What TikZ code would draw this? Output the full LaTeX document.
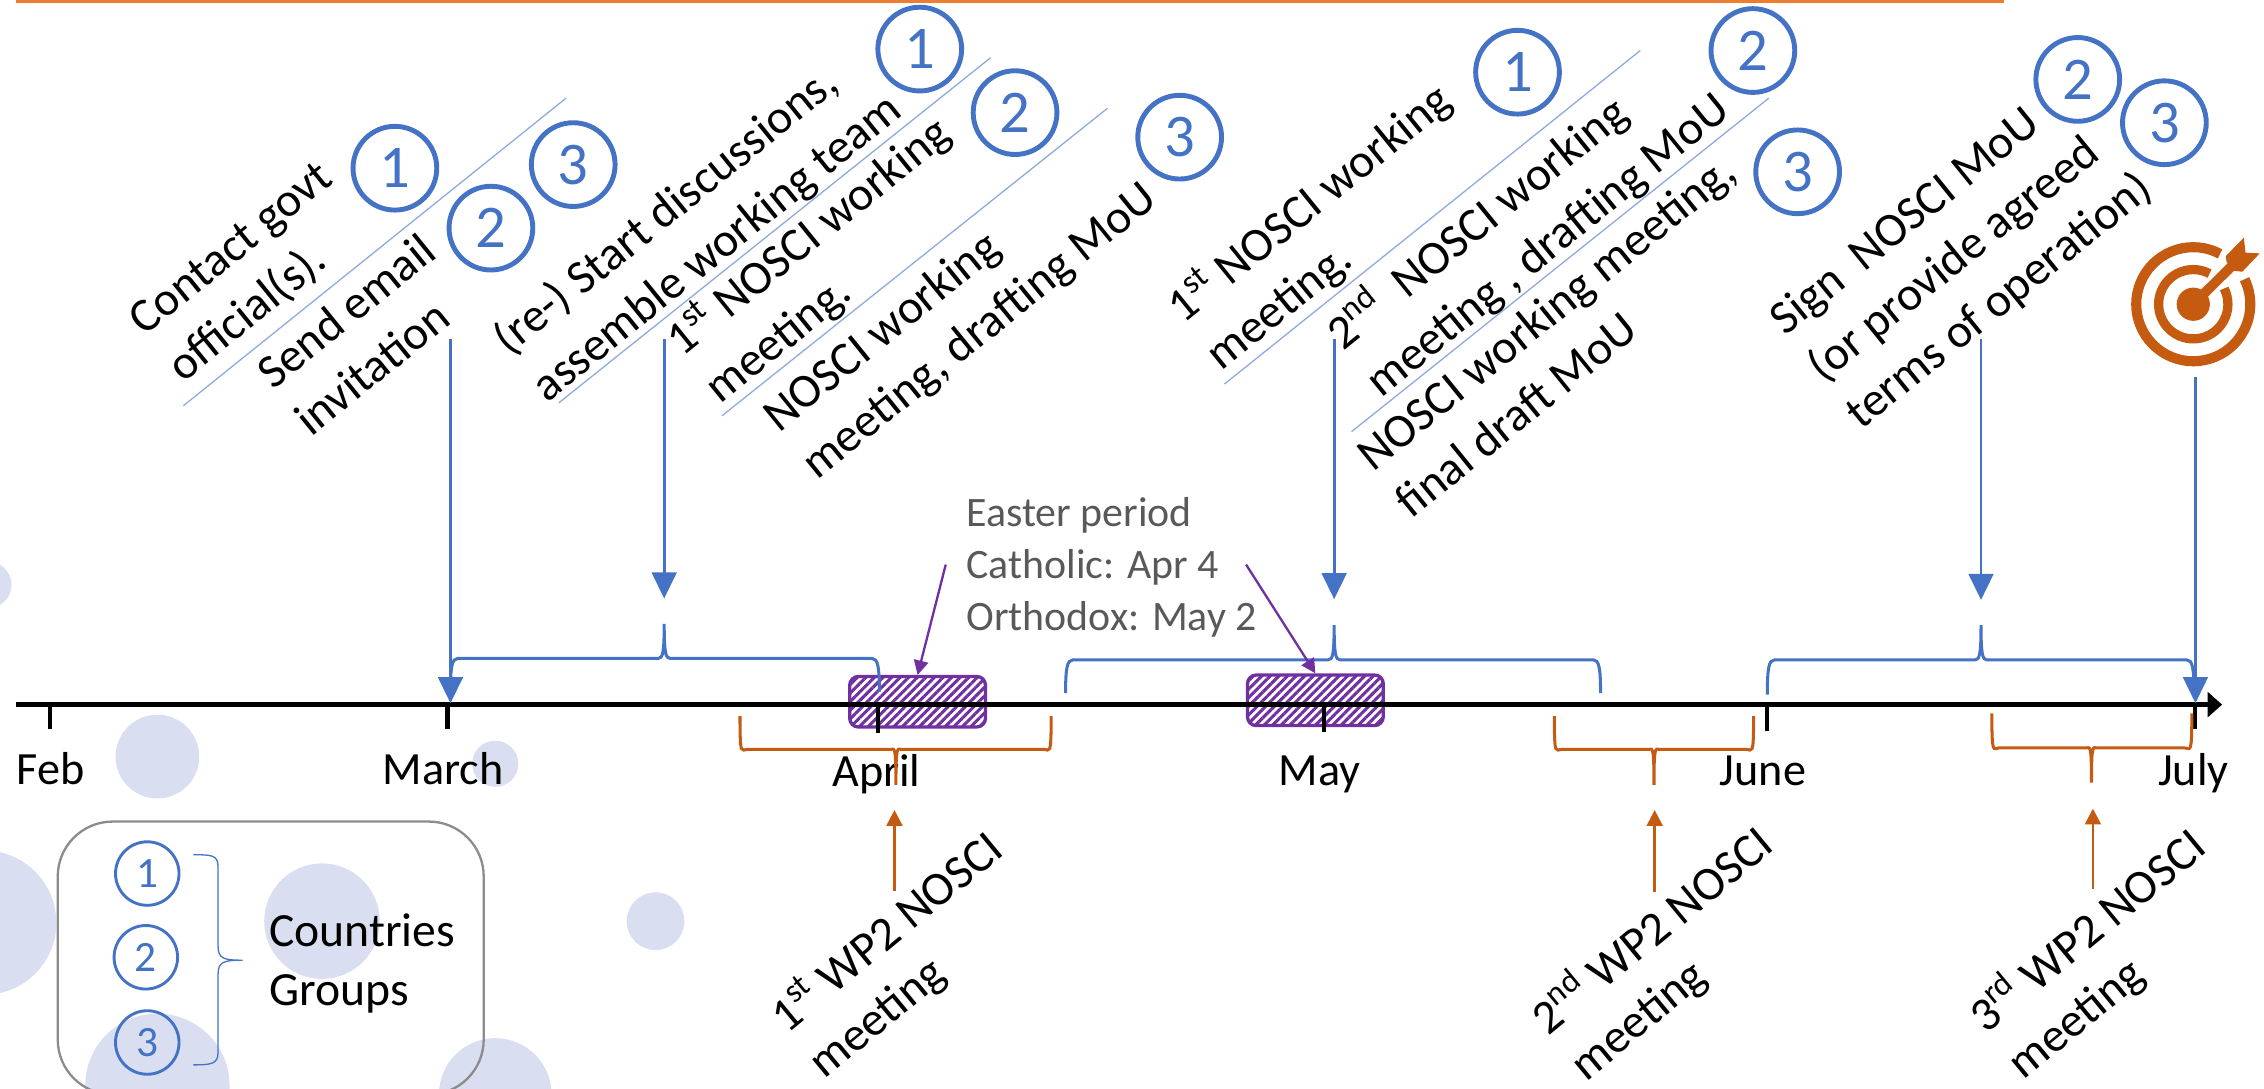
\documentclass[tikz,border=0pt]{standalone}
\usepackage{fontspec}
\setmainfont{Carlito}
\usetikzlibrary{arrows.meta,patterns.meta}
\definecolor{cblue}{HTML}{4472C4}
\definecolor{cbluelt}{HTML}{8FAADC}
\definecolor{corange}{HTML}{C55A11}
\definecolor{ctop}{HTML}{ED7D31}
\definecolor{cpurple}{HTML}{7030A0}
\definecolor{cbubble}{HTML}{D9DFF0}
\definecolor{cgrey}{HTML}{595959}
\newcommand{\hbr}[8]{% style, xl, yl, ybar, xm, ytip, xr, yr
  \draw[#1] (#2,#3) .. controls (#2,#4+6) and (#2+1,#4) .. (#2+5,#4)
    -- (#5-4,#4) .. controls (#5-1,#4) and (#5,#4-4) .. (#5,#6)
    .. controls (#5,#4-4) and (#5+1,#4) .. (#5+4,#4)
    -- (#7-5,#4) .. controls (#7-1,#4) and (#7,#4+6) .. (#7,#8);}
\tikzset{
  x=0.5pt,y=-0.5pt,
  bubble/.style={fill=cbubble,draw=none},
  numc/.style={circle,draw=cblue,line width=1.7pt,text=cblue,minimum size=29pt,inner sep=0pt,font=\fontsize{21}{21}\selectfont},
  legc/.style={circle,draw=cblue,line width=1pt,text=cblue,minimum size=22pt,inner sep=0pt,font=\fontsize{15}{15}\selectfont},
  tilted/.style={rotate=39,anchor=west,align=left,inner sep=0pt,font=\fontsize{16.5}{21}\selectfont},
  tiltedb/.style={rotate=39.5,anchor=west,align=left,inner sep=0pt,font=\fontsize{16.5}{20.5}\selectfont},
  month/.style={inner sep=0pt,font=\fontsize{16}{16}\selectfont},
  tick/.style={black,line width=1.5pt},
  sep/.style={cbluelt,line width=0.45pt},
  blarrow/.style={cblue,line width=1pt,-{Triangle[length=9pt,width=8.5pt]}},
  orarrow/.style={corange,line width=0.9pt,-{Triangle[length=5.5pt,width=5.5pt]}},
  puarrow/.style={cpurple,line width=0.8pt,-{Triangle[length=5pt,width=5pt]}},
  bbrace/.style={cblue,line width=1.05pt},
  obrace/.style={corange,line width=1.05pt},
  easter/.style={draw=cpurple,line width=1.15pt,rounded corners=3pt,minimum width=47pt,inner sep=0pt,
    pattern={Lines[angle=45,distance=2.1pt,line width=1.05pt]},pattern color=cpurple},
}
\begin{document}
\begin{tikzpicture}
\clip (0,0) rectangle (1568,754);
% background bubbles
\fill[bubble] (-8,405) circle[radius=16];
\fill[bubble] (109,524) circle[radius=29];
\fill[bubble] (343,529) circle[radius=16];
\fill[bubble] (-11,639) circle[radius=50];
\fill[bubble] (223,638) circle[radius=40];
\fill[bubble] (454,638) circle[radius=20];
\fill[bubble] (109,752) circle[radius=50];
\fill[bubble] (343,758) circle[radius=39];
% top rule
\fill[ctop] (11,0) rectangle (1388,2);
% Easter boxes
\node[easter,minimum height=17.5pt] (boxa) at (635.5,486) {};
\node[easter,minimum height=17.5pt] (boxb) at (911,485) {};
% axis
\coordinate (axs) at (11,488);
\coordinate (axe) at (1539,488);
\draw[black,line width=1.7pt,-{Triangle[length=5pt,width=8.5pt]}] (axs) -- (axe);
% ticks and months
\node[month,anchor=base west] (feb) at (11,543) {Feb};
\node[month,anchor=base] (mar) at (307,543) {March};
\node[month,anchor=base] (apr) at (607,545) {April};
\node[month,anchor=base] (may) at (914,544) {May};
\node[month,anchor=base] (jun) at (1221,544) {June};
\node[month,anchor=base] (jul) at (1519,544) {July};
\draw[tick] (34.5,488) -- (34.5,505);
\draw[tick] (310,488) -- (310,505);
\draw[tick] (608,488) -- (608,508);
\draw[tick] (917,488) -- (917,507);
\draw[tick] (1224,488) -- (1224,506);
\draw[tick] (1520,488) -- (1520,505);
% separators
\coordinate (s1a) at (127,281); \coordinate (s1b) at (392,68);
\coordinate (s2a) at (387,279); \coordinate (s2b) at (686,40);
\coordinate (s3a) at (500,288); \coordinate (s3b) at (767,75);
\coordinate (s4a) at (848,266); \coordinate (s4b) at (1136,35);
\coordinate (s5a) at (936,299); \coordinate (s5b) at (1225,68);
\draw[sep] (s1a) -- (s1b);
\draw[sep] (s2a) -- (s2b);
\draw[sep] (s3a) -- (s3b);
\draw[sep] (s4a) -- (s4b);
\draw[sep] (s5a) -- (s5b);
% tilted texts
\node[tilted] (t1) at (108,243) {Contact govt\\official(s).};
\node[tilted] (t2) at (195,278) {Send email\\invitation};
\node[tilted] (t3) at (360,256) {(re-) Start discussions,\\assemble working team};
\node[tilted] (t4) at (479,256) {1\textsuperscript{st} NOSCI working\\meeting.};
\node[tilted] (t5) at (547,310) {NOSCI working\\meeting, drafting MoU};
\node[tilted] (t6) at (826,233) {1\textsuperscript{st} NOSCI working\\meeting.};
\node[tilted] (t7) at (936,251) {2\textsuperscript{nd}\ \ NOSCI working\\meeting , drafting MoU};
\node[tilted] (t8) at (957,335) {NOSCI working meeting,\\final draft MoU};
\node[tilted] (t9) at (1257,259) {Sign\ \ NOSCI MoU\\(or provide agreed\\terms of operation)};
\node[tiltedb] (b1) at (551,724) {1\textsuperscript{st} WP2 NOSCI\\meeting};
\node[tiltedb] (b2) at (1078,725) {2\textsuperscript{nd} WP2 NOSCI\\meeting};
\node[tiltedb] (b3) at (1381,724) {3\textsuperscript{rd} WP2 NOSCI\\meeting};
% group circles
\node[numc] (c1) at (273.5,116.5) {1};
\node[numc] (c2) at (340,158) {2};
\node[numc] (c3) at (397,114) {3};
\node[numc] (c4) at (637,34) {1};
\node[numc] (c5) at (703,78) {2};
\node[numc] (c6) at (817,95) {3};
\node[numc] (c7) at (1051,50) {1};
\node[numc] (c8) at (1214,35) {2};
\node[numc] (c9) at (1245,119) {3};
\node[numc] (c10) at (1439,55) {2};
\node[numc] (c11) at (1499,85) {3};
% blue braces
\hbr{bbrace}{312}{479}{456}{460}{432}{609}{479}
\hbr{bbrace}{738}{480}{457}{924}{433}{1108.5}{480}
\hbr{bbrace}{1224}{481}{457}{1372}{433}{1519.5}{480}
% blue arrows
\coordinate (a1) at (312,235); \coordinate (a1e) at (312,487);
\coordinate (a2) at (460,235); \coordinate (a2e) at (460,414.5);
\coordinate (a3) at (924,235); \coordinate (a3e) at (924,415);
\coordinate (a4) at (1372,235); \coordinate (a4e) at (1372,415.5);
\coordinate (a5) at (1520.5,261); \coordinate (a5e) at (1520.5,487);
\draw[blarrow] (a1) -- (a1e);
\draw[blarrow] (a2) -- (a2e);
\draw[blarrow] (a3) -- (a3e);
\draw[blarrow] (a4) -- (a4e);
\draw[blarrow] (a5) -- (a5e);
% orange braces
\hbr{obrace}{512.5}{496}{519}{620.5}{543.5}{728}{496}
\hbr{obrace}{1076.5}{496}{519}{1145.5}{543.5}{1214.5}{496}
\hbr{obrace}{1379.5}{494}{518}{1448.5}{542}{1518}{494}
% orange arrows
\coordinate (o1) at (619.5,617); \coordinate (o1e) at (619.5,561);
\coordinate (o2) at (1146,617.5); \coordinate (o2e) at (1146,561);
\coordinate (o3) at (1449.5,616); \coordinate (o3e) at (1449.5,560);
\draw[orarrow] (o1) -- (o1e);
\draw[orarrow] (o2) -- (o2e);
\draw[orarrow] (o3) -- (o3e);
% Easter note
\node[anchor=west,align=left,inner sep=0pt,text=cgrey,font=\fontsize{14.5}{18}\selectfont] (note) at (669,393) {Easter period\\Catholic: Apr 4\\Orthodox: May 2};
\coordinate (pa) at (655,391);
\coordinate (pb) at (863,391);
\draw[puarrow] (pa) -- (boxa.north);
\draw[puarrow] (pb) -- (boxb.north);
% legend
\draw[draw=gray!90,line width=0.8pt,rounded corners=19pt] (40,569) rectangle (335,758);
\node[legc] (l1) at (102,605) {1};
\node[legc] (l2) at (101,663) {2};
\node[legc] (l3) at (102,722) {3};
\draw[cblue,line width=0.45pt] (134,592) .. controls (146,592) and (151,592) .. (151,600)
  -- (151,655) .. controls (151,664) and (155,665) .. (168,665)
  .. controls (155,665) and (151,666) .. (151,675)
  -- (151,729) .. controls (151,737) and (146,737.5) .. (134,737.5);
\node[anchor=west,align=left,inner sep=0pt,font=\fontsize{16.5}{20.5}\selectfont] (cg) at (186,667) {Countries\\Groups};
% target icon
\coordinate (tc) at (1519,210.7);
\draw[corange,line width=3.5pt] ([shift={(0,0)}]tc) ++(62:39.5 and -39.5) arc[start angle=-62,end angle=-386,radius=39.5];
\draw[corange,line width=3.2pt] (tc) ++(62:24 and -24) arc[start angle=-62,end angle=-387,radius=24];
\fill[corange] (tc) circle[radius=11.5];
\draw[corange,line width=3.4pt] (tc) -- (1547,183);
\fill[corange] (1554,164.6) -- (1555.2,175) -- (1565,175.5) -- (1553,188.2) -- (1546.6,187.5) -- (1542,181.2) -- (1541.6,177.3) -- cycle;
\end{tikzpicture}
\end{document}
